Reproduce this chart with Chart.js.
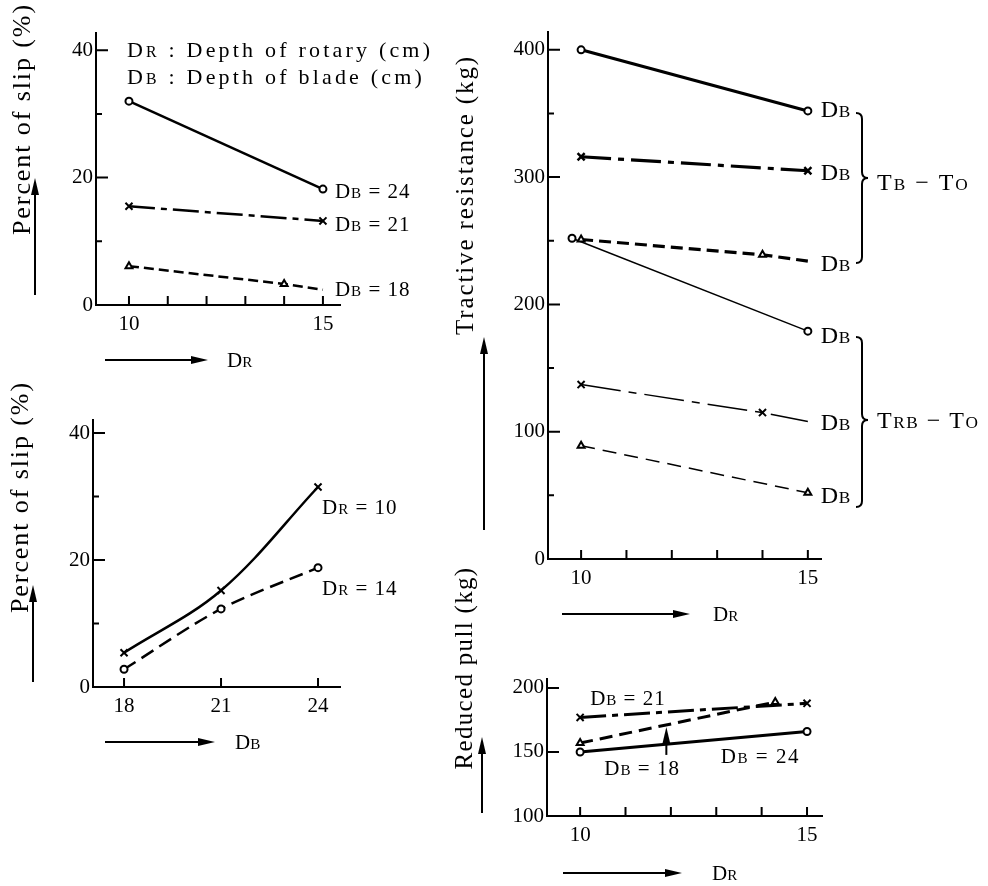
<!DOCTYPE html>
<html>
<head>
<meta charset="utf-8">
<script src="https://cdn.jsdelivr.net/npm/chart.js@4"></script>
<style>
html, body { margin: 0; padding: 0; background: #fff; }
#wrap { position: relative; width: 988px; height: 886px; }
#wrap canvas { position: absolute; left: 0; top: 0; }
</style>
</head>
<body>
<div id="wrap">
  <canvas id="slipDr" width="988" height="886"></canvas>
  <canvas id="slipDb" width="988" height="886"></canvas>
  <canvas id="tractive" width="988" height="886"></canvas>
  <canvas id="pull" width="988" height="886"></canvas>
</div>
<script>
Chart.defaults.font.family = "'Liberation Serif', 'DejaVu Serif', serif";
Chart.defaults.color = '#000';

// top left: percent of slip vs depth of rotary
const slipDR = [10, 15];
const slipDB24 = [32, 18.2];
const slipDB21 = [15.5, 13.2];
const slipDR18 = [10, 14, 15];
const slipDB18 = [6.1, 3.3, 2.4];

// bottom left: percent of slip vs depth of blade
const bladeDB = [18, 21, 24];
const slipDR10 = [5.4, 15.2, 31.5];
const slipDR14 = [2.8, 12.3, 18.8];

// top right: tractive resistance (kg)
const tracDR = [10, 15];
const tbTo24 = [400, 352];
const tbTo21 = [316, 305];
const tbTo18DR = [10, 14, 15];
const tbTo18 = [251, 239, 234];
const trbTo24DR = [9.8, 15];
const trbTo24 = [252, 179];
const trbTo21DR = [10, 14, 15];
const trbTo21 = [137, 115, 108];
const trbTo18 = [89, 52];

// bottom right: reduced pull (kg)
const pullDR = [10, 15];
const pullDB21 = [177, 188];
const pullDB24 = [150, 166];
const pullDR18 = [10, 14.3];
const pullDB18 = [157, 189];

// ticks
const drTicks = [10, 11, 12, 13, 14, 15];
const drLabels = [10, 15];
const dbTicks = [18, 21, 24];
const slipTicks = [0, 10, 20, 30, 40];
const slipLabels = [0, 20, 40];
const tracTicks = [0, 50, 100, 150, 200, 250, 300, 350, 400];
const tracLabels = [0, 100, 200, 300, 400];
const pullTicks = [100, 150, 200];

const SERIF = "'Liberation Serif'";

function series(xs, ys, o) {
  return Object.assign({
    data: xs.map((x, i) => ({ x: x, y: ys[i] })),
    showLine: true, fill: false, clip: false,
    borderColor: '#000', borderWidth: 2.5,
    pointBorderColor: '#000', pointBackgroundColor: '#fff',
    pointBorderWidth: 2, pointRadius: 3.5
  }, o);
}

function axis(min, max, ticks, labels, horizontal) {
  return {
    type: 'linear', min: min, max: max,
    afterBuildTicks: s => { s.ticks = ticks.map(v => ({ value: v })); },
    afterFit: s => { if (horizontal) s.height = 40; else s.width = 50; },
    ticks: {
      autoSkip: false, maxRotation: 0, color: '#000',
      font: { size: 21 }, padding: horizontal ? 7 : 3,
      callback: v => labels.includes(v) ? String(v) : ''
    },
    grid: { drawOnChartArea: false, drawTicks: false },
    border: { color: '#000', width: 2 }
  };
}

// tick marks point into the plot, long ones where a value is printed
function inwardTicks(c) {
  const ctx = c.ctx, a = c.chartArea, sx = c.scales.x, sy = c.scales.y;
  ctx.save();
  ctx.strokeStyle = '#000';
  ctx.lineWidth = 2;
  ctx.beginPath();
  sy.ticks.forEach(t => {
    const py = sy.getPixelForValue(t.value);
    ctx.moveTo(a.left, py);
    ctx.lineTo(a.left + (t.label ? 12 : 6), py);
  });
  sx.ticks.forEach(t => {
    const px = sx.getPixelForValue(t.value);
    ctx.moveTo(px, a.bottom);
    ctx.lineTo(px, a.bottom - 9);
  });
  ctx.stroke();
  ctx.restore();
}

// "D{B} = 24" -> D in full size, B in small capitals
function parse(s) {
  return s.split(/(\{[^}]*\})/).filter(Boolean)
    .map(p => p[0] === '{' ? [p.slice(1, -1), true] : [p, false]);
}

function rich(ctx, x, y, text, size, spacing) {
  ctx.save();
  ctx.fillStyle = '#000';
  ctx.textAlign = 'left';
  ctx.textBaseline = 'alphabetic';
  ctx.letterSpacing = (spacing || 0) + 'px';
  const base = y + size * 0.33;
  parse(text).forEach(([t, small]) => {
    ctx.font = (small ? size * 0.72 : size) + 'px ' + SERIF;
    ctx.fillText(t, x, base);
    x += ctx.measureText(t).width;
  });
  ctx.restore();
}

function vtitle(ctx, text, cx, cy, size, len) {
  ctx.save();
  ctx.translate(cx, cy);
  ctx.rotate(-Math.PI / 2);
  ctx.font = size + 'px ' + SERIF;
  ctx.fillStyle = '#000';
  const w = ctx.measureText(text).width;
  ctx.letterSpacing = Math.max(0, (len - w) / text.length) + 'px';
  ctx.textAlign = 'center';
  ctx.textBaseline = 'middle';
  ctx.fillText(text, 0, 0);
  ctx.restore();
}

function arrow(ctx, x1, y1, x2, y2) {
  const ang = Math.atan2(y2 - y1, x2 - x1), h = 17, hw = 4;
  ctx.save();
  ctx.strokeStyle = '#000';
  ctx.fillStyle = '#000';
  ctx.lineWidth = 2;
  ctx.beginPath();
  ctx.moveTo(x1, y1);
  ctx.lineTo(x2 - h * Math.cos(ang), y2 - h * Math.sin(ang));
  ctx.stroke();
  ctx.translate(x2, y2);
  ctx.rotate(ang);
  ctx.beginPath();
  ctx.moveTo(0, 0);
  ctx.lineTo(-h, -hw);
  ctx.lineTo(-h, hw);
  ctx.closePath();
  ctx.fill();
  ctx.restore();
}

function brace(ctx, x, y1, ym, y2, w) {
  ctx.save();
  ctx.strokeStyle = '#000';
  ctx.lineWidth = 2;
  ctx.beginPath();
  ctx.moveTo(x - w, y1);
  ctx.quadraticCurveTo(x, y1, x, y1 + w);
  ctx.lineTo(x, ym - w);
  ctx.quadraticCurveTo(x, ym, x + w, ym);
  ctx.quadraticCurveTo(x, ym, x, ym + w);
  ctx.lineTo(x, y2 - w);
  ctx.quadraticCurveTo(x, y2, x - w, y2);
  ctx.stroke();
  ctx.restore();
}

function panel(id, area, xScale, yScale, datasets, draw) {
  const el = document.getElementById(id);
  new Chart(el, {
    type: 'scatter',
    data: { datasets: datasets },
    options: {
      responsive: false, animation: false, events: [],
      layout: { padding: {
        left: area.left - 50, top: area.top,
        right: el.width - area.right, bottom: el.height - area.bottom - 40
      } },
      plugins: { legend: { display: false }, tooltip: { enabled: false } },
      scales: { x: xScale, y: yScale }
    },
    plugins: [{ id: 'marks', afterDraw: c => {
      inwardTicks(c);
      draw(c.ctx, v => c.scales.x.getPixelForValue(v), v => c.scales.y.getPixelForValue(v));
    } }]
  });
}

// top left
panel('slipDr', { left: 96, top: 33, right: 340, bottom: 305 },
  axis(9.15, 15.44, drTicks, drLabels, true),
  axis(0, 42.7, slipTicks, slipLabels, false),
  [
    series(slipDR, slipDB24, { pointStyle: 'circle' }),
    series(slipDR, slipDB21, { borderDash: [26, 6, 6, 6], pointStyle: 'crossRot', pointRadius: 5 }),
    series(slipDR18, slipDB18, { borderDash: [10, 5], pointStyle: 'triangle', pointRadius: [4, 4, 0] })
  ],
  (ctx, X, Y) => {
    rich(ctx, 127, 50, 'D{R} : Depth of rotary (cm)', 22, 3.2);
    rich(ctx, 127, 77, 'D{B} : Depth of blade (cm)', 22, 3.2);
    rich(ctx, X(15) + 12, Y(slipDB24[1]) + 2, 'D{B} = 24', 21, 1);
    rich(ctx, X(15) + 12, Y(slipDB21[1]) + 3, 'D{B} = 21', 21, 1);
    rich(ctx, X(15) + 12, Y(slipDB18[2]) - 1, 'D{B} = 18', 21, 1);
    vtitle(ctx, 'Percent of slip (%)', 23, 119, 26, 232);
    arrow(ctx, 35, 295, 35, 178);
    arrow(ctx, 105, 360, 208, 360);
    rich(ctx, 227, 360, 'D{R}', 21);
  });

// bottom left
panel('slipDb', { left: 93, top: 420, right: 340, bottom: 687 },
  axis(17.04, 24.68, dbTicks, dbTicks, true),
  axis(0, 42.05, slipTicks, slipLabels, false),
  [
    series(bladeDB, slipDR10, { pointStyle: 'crossRot', pointRadius: 5, tension: 0.35 }),
    series(bladeDB, slipDR14, { borderDash: [14, 7], pointStyle: 'circle', tension: 0.3 })
  ],
  (ctx, X, Y) => {
    rich(ctx, X(24) + 4, Y(slipDR10[2]) + 20, 'D{R} = 10', 21, 1);
    rich(ctx, X(24) + 4, Y(slipDR14[2]) + 20, 'D{R} = 14', 21, 1);
    vtitle(ctx, 'Percent of slip (%)', 21, 497, 26, 232);
    arrow(ctx, 33, 682, 33, 585);
    arrow(ctx, 105, 742, 215, 742);
    rich(ctx, 235, 742, 'D{B}', 21);
  });

// top right
panel('tractive', { left: 548, top: 32, right: 821, bottom: 559 },
  axis(9.27, 15.29, drTicks, drLabels, true),
  axis(0, 414, tracTicks, tracLabels, false),
  [
    series(tracDR, tbTo24, { borderWidth: 3.2, pointStyle: 'circle' }),
    series(tracDR, tbTo21, { borderWidth: 3.2, borderDash: [30, 7, 6, 7], pointStyle: 'crossRot', pointRadius: 5, pointBorderWidth: 2.5 }),
    series(tbTo18DR, tbTo18, { borderWidth: 3.2, borderDash: [12, 6], pointStyle: 'triangle', pointRadius: [4, 4, 0] }),
    series(trbTo24DR, trbTo24, { borderWidth: 1.5, pointStyle: 'circle' }),
    series(trbTo21DR, trbTo21, { borderWidth: 1.5, borderDash: [40, 8, 8, 8], pointStyle: 'crossRot', pointRadius: [5, 5, 0] }),
    series(tracDR, trbTo18, { borderWidth: 1.5, borderDash: [14, 8], pointStyle: 'triangle', pointRadius: 4 })
  ],
  (ctx, X, Y) => {
    const lx = X(15) + 13;
    rich(ctx, lx, Y(tbTo24[1]) - 2, 'D{B}', 24, 0.5);
    rich(ctx, lx, Y(tbTo21[1]) + 1, 'D{B}', 24, 0.5);
    rich(ctx, lx, Y(tbTo18[2]) + 2, 'D{B}', 24, 0.5);
    rich(ctx, lx, Y(trbTo24[1]) + 4, 'D{B}', 24, 0.5);
    rich(ctx, lx, Y(trbTo21[2]) + 1, 'D{B}', 24, 0.5);
    rich(ctx, lx, Y(trbTo18[1]) + 2, 'D{B}', 24, 0.5);
    brace(ctx, 862, 113, 178, 263, 6);
    brace(ctx, 862, 337, 420, 507, 6);
    rich(ctx, 877, 182, 'T{B} − T{O}', 24, 2);
    rich(ctx, 877, 420, 'T{RB} − T{O}', 24, 1.5);
    vtitle(ctx, 'Tractive resistance (kg)', 466, 195, 25, 280);
    arrow(ctx, 484, 530, 484, 337);
    arrow(ctx, 562, 614, 690, 614);
    rich(ctx, 713, 614, 'D{R}', 21);
  });

// bottom right
panel('pull', { left: 547, top: 679, right: 822, bottom: 816 },
  axis(9.27, 15.33, drTicks, drLabels, true),
  axis(100, 207, pullTicks, pullTicks, false),
  [
    series(pullDR, pullDB21, { borderWidth: 3, borderDash: [26, 6, 6, 6], pointStyle: 'crossRot', pointRadius: 5 }),
    series(pullDR18, pullDB18, { borderWidth: 3, borderDash: [13, 7], pointStyle: 'triangle', pointRadius: 4 }),
    series(pullDR, pullDB24, { borderWidth: 3, pointStyle: 'circle' })
  ],
  (ctx, X, Y) => {
    rich(ctx, X(10) + 10, Y(pullDB21[0]) - 19, 'D{B} = 21', 21, 1);
    rich(ctx, X(13.1), Y(pullDB24[1]) + 25, 'D{B} = 24', 21, 1.5);
    const ax = 11.9;
    const ay = pullDB18[0] + (pullDB18[1] - pullDB18[0]) * (ax - pullDR18[0]) / (pullDR18[1] - pullDR18[0]);
    arrow(ctx, X(ax), Y(ay) + 30, X(ax), Y(ay) + 2);
    rich(ctx, X(ax) - 62, Y(ay) + 43, 'D{B} = 18', 21, 1);
    vtitle(ctx, 'Reduced pull (kg)', 465, 668, 25, 203);
    arrow(ctx, 482, 813, 482, 737);
    arrow(ctx, 563, 873, 682, 873);
    rich(ctx, 712, 873, 'D{R}', 21);
  });
</script>
</body>
</html>
